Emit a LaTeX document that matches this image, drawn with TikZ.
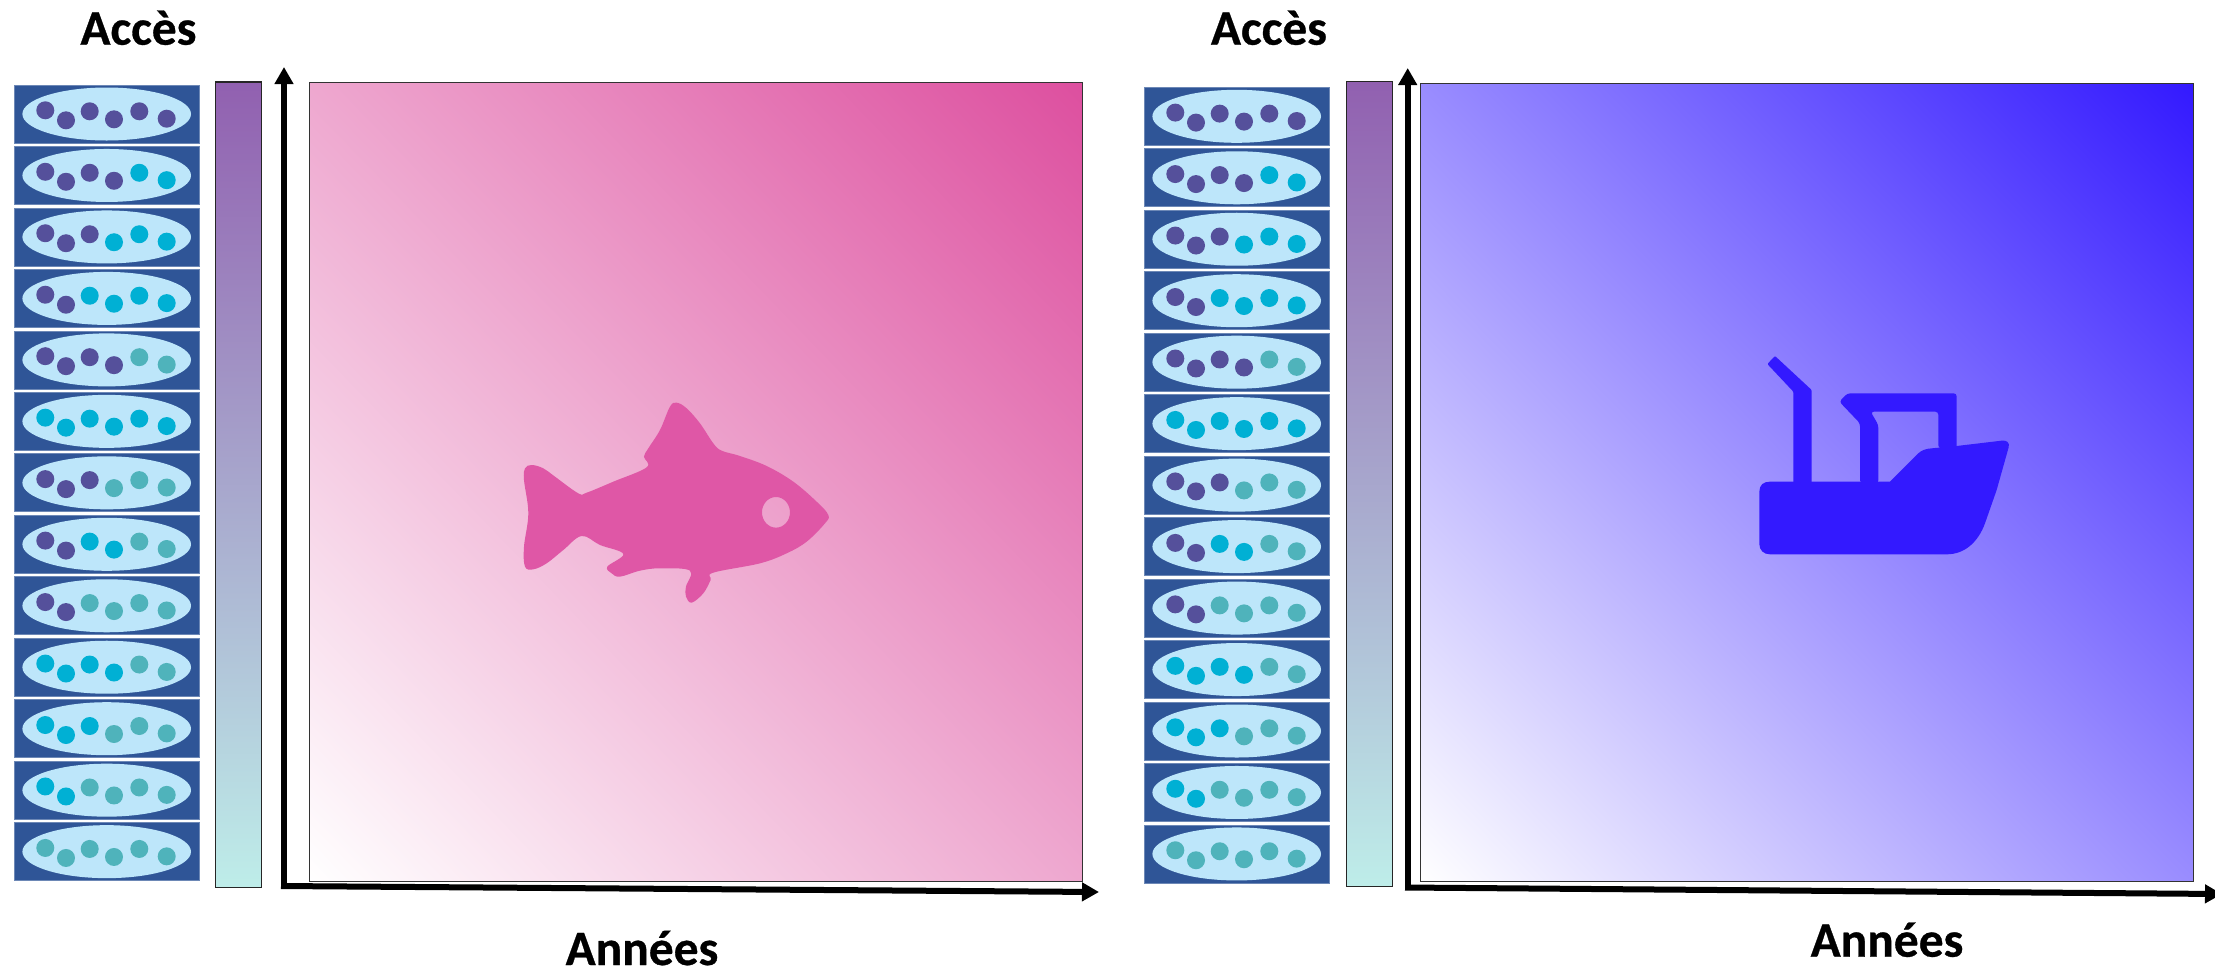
\documentclass[tikz,border=0pt]{standalone}
\usepackage{fontspec}
\setmainfont[BoldFeatures={FakeBold=0.6}]{Carlito}
\usetikzlibrary{arrows.meta,shadings}
\definecolor{tileblue}{HTML}{2F5597}
\definecolor{ell}{HTML}{BDE6FA}
\definecolor{P}{HTML}{55509B}
\definecolor{B}{HTML}{00B0D4}
\definecolor{T}{HTML}{4FB3BB}
\definecolor{pinkA}{HTML}{DD4F9F}
\definecolor{fishc}{HTML}{DF57A6}
\definecolor{pinkM}{HTML}{EEA7CF}
\definecolor{blueA}{HTML}{3319FF}
\definecolor{blueM}{HTML}{998CFF}
\definecolor{barTop}{HTML}{9160B0}
\definecolor{barBot}{HTML}{BEEDE9}
\tikzset{
  tilebox/.style={fill=tileblue,draw=tileblue!70!white,line width=.7pt},
  ovalshape/.style={fill=ell},
  barbox/.style={draw=black!85,line width=1.1pt,top color=barTop,bottom color=barBot},
  squarebox/.style={draw=black!80,line width=1pt},
  axis/.style={line width=6pt,-{Triangle[length=17pt,width=18pt]}},
  title/.style={font=\fontsize{49.5}{49.5}\selectfont\bfseries,anchor=base,inner sep=0pt}
}
\newcommand{\tilerow}[8]{%
  \begin{scope}[shift={(#1,#2)}]
    \fill[tilebox] (0,0) rectangle (185.5,58);
    \fill[ovalshape] (92.7,29) ellipse (84.3 and 26.5);
    \fill[#3] (31.3,25.3) circle (9);
    \fill[#4] (52,35.3) circle (9);
    \fill[#5] (75.7,26.3) circle (9);
    \fill[#6] (100,34.3) circle (9);
    \fill[#7] (125.3,26.3) circle (9);
    \fill[#8] (152.7,33.7) circle (9);
  \end{scope}}
\newcommand{\tilestack}[2]{%
  \begin{scope}[shift={(#1,#2)}]
  \tilerow{0}{0}{P}{P}{P}{P}{P}{P}
  \tilerow{0}{61.47}{P}{P}{P}{P}{B}{B}
  \tilerow{0}{122.94}{P}{P}{P}{B}{B}{B}
  \tilerow{0}{184.41}{P}{P}{B}{B}{B}{B}
  \tilerow{0}{245.88}{P}{P}{P}{P}{T}{T}
  \tilerow{0}{307.35}{B}{B}{B}{B}{B}{B}
  \tilerow{0}{368.82}{P}{P}{P}{T}{T}{T}
  \tilerow{0}{430.29}{P}{P}{B}{B}{T}{T}
  \tilerow{0}{491.76}{P}{P}{T}{T}{T}{T}
  \tilerow{0}{553.23}{B}{B}{B}{B}{T}{T}
  \tilerow{0}{614.70}{B}{B}{B}{T}{T}{T}
  \tilerow{0}{676.17}{B}{B}{T}{T}{T}{T}
  \tilerow{0}{737.64}{T}{T}{T}{T}{T}{T}
  \end{scope}}
\begin{document}
\begin{tikzpicture}[x=1pt,y=-1pt]
\useasboundingbox (0,0) rectangle (2215,970);
% ---------- left panel
\tilestack{14}{85}
\path[barbox] (215.3,82) rectangle (261.7,887.3);
\shade[lower left=white,upper right=pinkA,upper left=pinkM,lower right=pinkM] (309,82) rectangle (1082,881);
\draw[squarebox] (309,82) rectangle (1082,881);
\coordinate (o1) at (284,888.5);
\coordinate (yt1) at (284,67);
\coordinate (o1b) at (281,886);
\coordinate (xt1) at (1099,892);
\draw[axis] (o1) -- (yt1);
\draw[axis] (o1b) -- (xt1);
\node[title] (acces1) at (138.5,44.7) {Accès};
\node[title] (annees1) at (642,965) {Années};
% fish
\begin{scope}[shift={(500,380)},x=.3333pt,y=-.3333pt]
\fill[fishc,even odd rule] plot[smooth cycle,tension=.6] coordinates {
 (75,265) (95,255) (130,265) (165,290) (235,340) (260,338) (340,305) (440,262) (432,230)
 (445,205) (480,150) (510,80) (530,68) (560,85) (600,130) (640,190) (665,212) (720,228)
 (800,258) (880,305) (950,365) (985,405) (975,430) (920,485) (860,520) (780,550) (640,578)
 (632,600) (610,640) (575,668) (558,650) (558,620) (570,572) (480,565) (420,572) (360,590)
 (335,580) (322,560) (370,522) (300,495) (245,468) (190,510) (140,550) (100,568) (75,560)
 (72,500) (85,400) (72,300)}
 (828,397) ellipse (42 and 46);
\end{scope}
% ---------- right panel
\tilestack{1144}{87.3}
\path[barbox] (1346.5,81.5) rectangle (1392.7,886.7);
\shade[lower left=white,upper right=blueA,upper left=blueM,lower right=blueM] (1420,83.3) rectangle (2193.7,881.3);
\draw[squarebox] (1420,83.3) rectangle (2193.7,881.3);
\coordinate (o2) at (1407.7,888.5);
\coordinate (yt2) at (1407.7,68);
\coordinate (o2b) at (1405,887.5);
\coordinate (xt2) at (2222,894);
\draw[axis] (o2) -- (yt2);
\draw[axis] (o2b) -- (xt2);
\node[title] (acces2) at (1269,44.7) {Accès};
\node[title] (annees2) at (1887,956.7) {Années};
% ship
\begin{scope}[shift={(1740,340)},x=.3333pt,y=-.3333pt]
\fill[blueA] (58,455) .. controls (58,435) and (70,425) .. (90,425) -- (450,425) -- (535,340) .. controls (545,330) and (560,326) .. (575,325) -- (650,318) -- (785,302) .. controls (800,300) and (810,308) .. (806,322) -- (770,450) -- (735,550) .. controls (715,605) and (675,643) .. (620,643) -- (90,643) .. controls (70,643) and (58,630) .. (58,612) -- cycle;
\fill[blueA,rounded corners=1pt] (82,72) -- (105,48) -- (215,150) -- (215,430) -- (160,430) -- (160,155) -- cycle;
\fill[blueA,rounded corners=3pt] (298,185) -- (322,160) -- (650,160) -- (650,325) -- (595,325) -- (595,215) -- (392,215) -- (415,255) -- (415,430) -- (360,430) -- (360,250) -- cycle;
\end{scope}
\end{tikzpicture}
\end{document}
